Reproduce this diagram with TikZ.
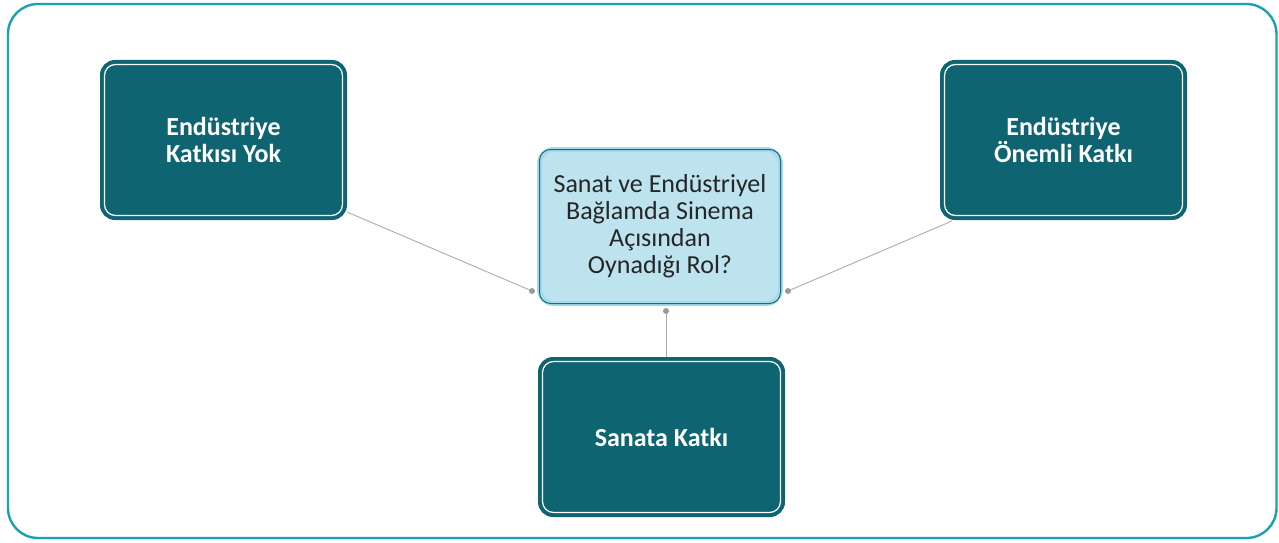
\documentclass[tikz,border=0pt]{standalone}
\usepackage{fontspec}
\setmainfont{Carlito}
\definecolor{frame}{HTML}{1AA2B4}
\definecolor{dteal}{HTML}{0E6471}
\definecolor{lblue}{HTML}{BDE3EF}
\definecolor{lglow}{HTML}{A6DAEA}
\definecolor{cline}{HTML}{1B6B75}
\definecolor{conn}{HTML}{ABABAB}
\begin{document}
\begin{tikzpicture}[x=1pt,y=1pt,
  darkbox/.style={draw=dteal, fill=dteal, line width=2pt, rounded corners=14pt,
    minimum width=245pt, minimum height=158pt, text=white, align=center,
    font=\fontsize{26}{27}\selectfont\bfseries, inner sep=0pt},
  centerbox/.style={draw=lglow, fill=lblue, line width=5pt, rounded corners=14pt,
    minimum width=241pt, minimum height=154pt, text=black!85, align=center,
    font=\fontsize{26}{27}\selectfont, inner sep=0pt},
  innerwhite/.style={draw=white, line width=1.2pt, rounded corners=11pt},
  innerteal/.style={draw=cline, line width=1pt, rounded corners=11pt},
  connector/.style={draw=conn, line width=0.9pt},
  dot/.style={circle, fill=conn!90!black, inner sep=0pt, minimum size=6pt}]
\useasboundingbox (0,0) rectangle (1279,542);
\draw[frame, line width=2.4pt, rounded corners=30pt] (8,4) rectangle (1276.5,538);

\node[darkbox] (b1) at (223.5,402) {Endüstriye\\Katkısı Yok};
\node[darkbox] (b3) at (1063.5,402) {Endüstriye\\Önemli Katkı};
\node[darkbox] (b2) at (661.5,105) {Sanata Katkı};
\node[centerbox] (c) at (660,315.5) {Sanat ve Endüstriyel\\Bağlamda Sinema\\Açısından\\Oynadığı Rol?};

\foreach \n in {b1,b2,b3}{
  \draw[innerwhite] ([shift={(4.5pt,4.5pt)}]\n.south west) rectangle ([shift={(-4.5pt,-4.5pt)}]\n.north east);
}
\draw[innerteal] ([shift={(2.5pt,2.5pt)}]c.south west) rectangle ([shift={(-2.5pt,-2.5pt)}]c.north east);

\coordinate (s1) at (347,330);
\coordinate (s3) at (952,321);
\coordinate (s2) at (666,185);
\node[dot] (d1) at (532,251) {};
\node[dot] (d3) at (788,251) {};
\node[dot] (d2) at (666,231) {};
\draw[connector] (s1) -- (d1);
\draw[connector] (s3) -- (d3);
\draw[connector] (b2.north -| d2) -- (d2);
\end{tikzpicture}
\end{document}
